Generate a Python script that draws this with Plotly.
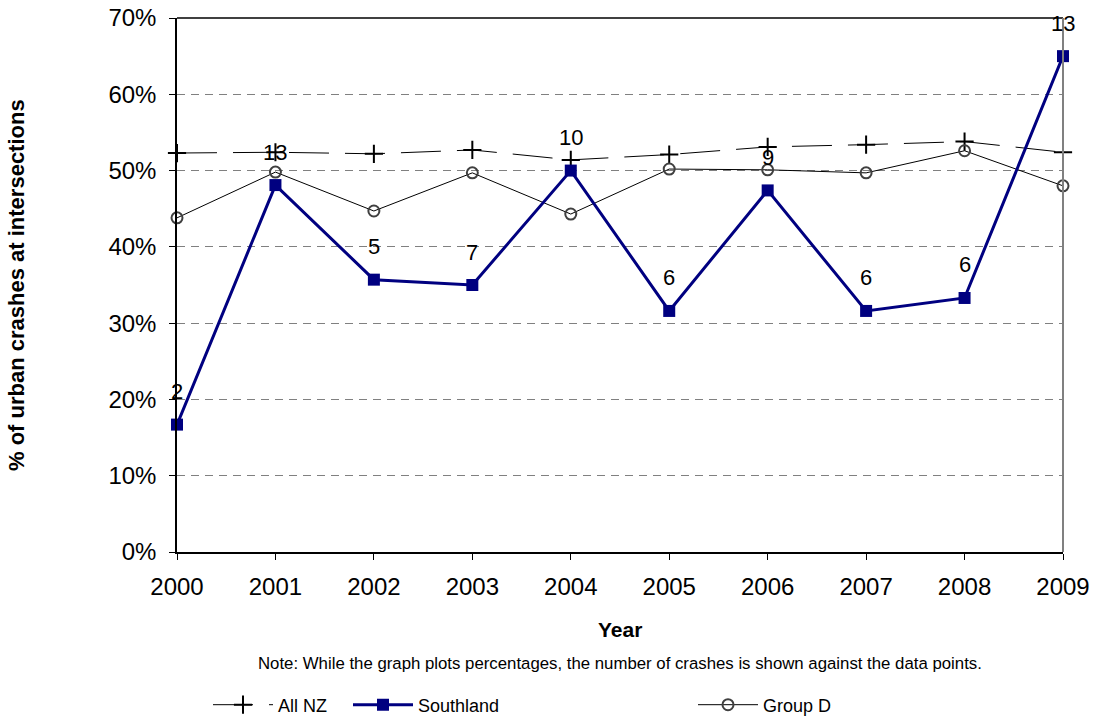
import plotly.graph_objects as go

years = [2000, 2001, 2002, 2003, 2004, 2005, 2006, 2007, 2008, 2009]
all_nz = [0.523, 0.524, 0.522, 0.527, 0.514, 0.521, 0.531, 0.534, 0.538, 0.524]
southland = [0.167, 0.481, 0.357, 0.350, 0.500, 0.316, 0.474, 0.316, 0.333, 0.650]
group_d = [0.438, 0.498, 0.447, 0.497, 0.443, 0.502, 0.501, 0.497, 0.526, 0.480]
crash_counts = [2, 13, 5, 7, 10, 6, 9, 6, 6, 13]

FONT = "Liberation Sans, Arial, sans-serif"
W, H = 1093, 722

fig = go.Figure()

fig.add_trace(go.Scatter(
    x=years, y=all_nz, name="All NZ", mode="lines+markers",
    line=dict(color="black", width=1, dash="40px,16px"),
    marker=dict(symbol="cross-thin", size=13, line=dict(color="black", width=2)),
    cliponaxis=False, legend="legend"))

fig.add_trace(go.Scatter(
    x=years, y=group_d, name="Group D", mode="lines+markers",
    line=dict(color="black", width=1),
    marker=dict(symbol="circle-open", size=11, color="#404040", line=dict(color="#404040", width=2)),
    cliponaxis=False, legend="legend3"))

fig.add_trace(go.Scatter(
    x=years, y=southland, name="Southland", mode="lines+markers",
    line=dict(color="#000080", width=3),
    marker=dict(symbol="square", size=12, color="#000080"),
    cliponaxis=False, legend="legend2"))

annotations = []
for yr, val, cnt in zip(years, southland, crash_counts):
    annotations.append(dict(x=yr, y=val, xref="x", yref="y", text=str(cnt),
                            showarrow=False, yshift=33,
                            font=dict(family=FONT, size=22, color="black")))

annotations.append(dict(x=0.5, y=-0.146, xref="paper", yref="paper", text="<b>Year</b>",
                        showarrow=False, font=dict(family=FONT, size=21, color="black"),
                        xanchor="center", yanchor="middle"))
annotations.append(dict(x=0.5, y=-0.208, xref="paper", yref="paper",
                        text="Note: While the graph plots percentages, the number of crashes is shown against the data points.",
                        showarrow=False, font=dict(family=FONT, size=16.8, color="black"),
                        xanchor="center", yanchor="middle"))
annotations.append(dict(x=(16 - 177) / 886, y=0.5, xref="paper", yref="paper",
                        text="<b>% of urban crashes at intersections</b>", textangle=-90,
                        showarrow=False, font=dict(family=FONT, size=22, color="black"),
                        xanchor="center", yanchor="middle"))

shapes = [
    dict(type="line", xref="paper", yref="paper", x0=0, x1=1, y0=1, y1=1,
         line=dict(color="black", width=1.5)),
    dict(type="line", xref="paper", yref="paper", x0=1, x1=1, y0=0, y1=1,
         line=dict(color="#808080", width=2)),
]

leg_common = dict(orientation="h", yanchor="middle", y=(H - 705) / H, xanchor="left",
                  xref="container", yref="container", itemwidth=60,
                  bgcolor="rgba(0,0,0,0)", font=dict(family=FONT, size=18, color="black"))

fig.update_layout(
    width=W, height=H,
    margin=dict(l=177, r=30, t=18, b=170, autoexpand=False),
    paper_bgcolor="white", plot_bgcolor="white",
    font=dict(family=FONT, size=24, color="black"),
    showlegend=True,
    legend=dict(x=208 / W, **leg_common),
    legend2=dict(x=348 / W, **leg_common),
    legend3=dict(x=693 / W, **leg_common),
    annotations=annotations,
    shapes=shapes,
    xaxis=dict(range=[2000, 2009], tickmode="array", tickvals=years,
               ticktext=[str(y) for y in years],
               showline=True, linecolor="black", linewidth=1.5,
               ticks="outside", ticklen=6, tickcolor="black", showgrid=False,
               zeroline=False, tickfont=dict(family=FONT, size=24),
               ticklabelstandoff=6),
    yaxis=dict(range=[0, 0.7], dtick=0.1, tickformat=".0%",
               showline=True, linecolor="black", linewidth=1.5,
               ticks="outside", ticklen=6, tickcolor="black",
               showgrid=True, gridcolor="#808080", gridwidth=1, griddash="8px,6px",
               zeroline=False, tickfont=dict(family=FONT, size=24),
               ticklabelstandoff=8),
)

fig.write_html("out.html", config={"displayModeBar": False},
               post_script="document.body.style.margin='0';document.body.style.padding='0';")
